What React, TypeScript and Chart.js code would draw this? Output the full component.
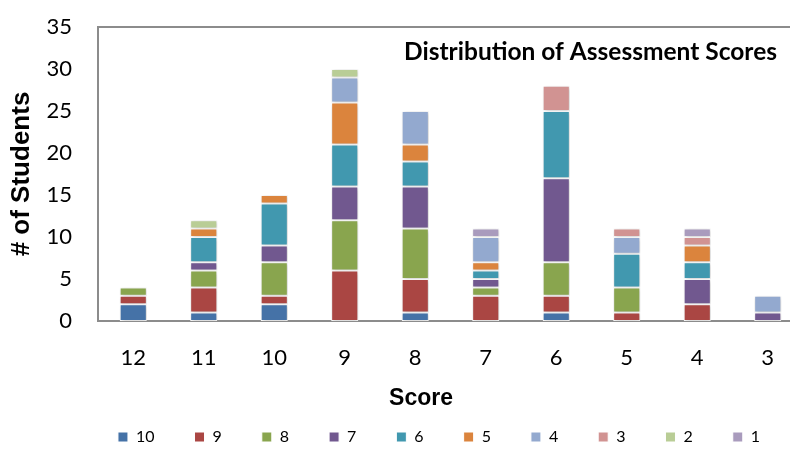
import React, { useEffect, useRef } from "react";
import { Chart, registerables } from "chart.js";
Chart.register(...registerables);

const categories = ["12", "11", "10", "9", "8", "7", "6", "5", "4", "3"];
const seriesNames = ["10", "9", "8", "7", "6", "5", "4", "3", "2", "1"];

const s10 = [2, 1, 2, 0, 1, 0, 1, 0, 0, 0];
const s9 = [1, 3, 1, 6, 4, 3, 2, 1, 2, 0];
const s8 = [1, 2, 4, 6, 6, 1, 4, 3, 0, 0];
const s7 = [0, 1, 2, 4, 5, 1, 10, 0, 3, 1];
const s6 = [0, 3, 5, 5, 3, 1, 8, 4, 2, 0];
const s5 = [0, 1, 1, 5, 2, 1, 0, 0, 2, 0];
const s4 = [0, 0, 0, 3, 4, 3, 0, 2, 0, 2];
const s3 = [0, 0, 0, 0, 0, 0, 3, 1, 1, 0];
const s2 = [0, 1, 0, 1, 0, 0, 0, 0, 0, 0];
const s1 = [0, 0, 0, 0, 0, 1, 0, 0, 1, 0];

const seriesValues = [s10, s9, s8, s7, s6, s5, s4, s3, s2, s1];
const seriesColors = [
  "#4572A7", "#AA4643", "#89A54E", "#71588F", "#4198AF",
  "#DB843D", "#93A9CF", "#D19392", "#B9CD96", "#A99BBD",
];

const yMin = 0;
const yMax = 35;
const yStep = 5;

const chartTitle = "Distribution of Assessment Scores";
const xTitle = "Score";
const yTitle = "# of Students";

const borderPlugin = {
  id: "plotBorder",
  beforeDatasetsDraw(chart: any) {
    const { ctx, chartArea } = chart;
    ctx.save();
    ctx.strokeStyle = "#8C8C8C";
    ctx.lineWidth = 2;
    ctx.strokeRect(chartArea.left, chartArea.top, chartArea.right - chartArea.left, chartArea.bottom - chartArea.top);
    ctx.restore();
  },
};

const shadowPlugin = {
  id: "barShadow",
  beforeDatasetsDraw(chart: any) {
    const { ctx } = chart;
    ctx.save();
    ctx.shadowColor = "rgba(0,0,0,0.22)";
    ctx.shadowBlur = 4;
    ctx.shadowOffsetX = 1;
    ctx.shadowOffsetY = 1;
  },
  afterDatasetsDraw(chart: any) {
    chart.ctx.restore();
  },
};

const textPlugin = {
  id: "texts",
  afterDraw(chart: any) {
    const { ctx, chartArea } = chart;
    ctx.save();
    ctx.fillStyle = "#000";
    ctx.font = "bold 24.5px Lato";
    ctx.textAlign = "right";
    ctx.textBaseline = "middle";
    ctx.fillText(chartTitle, chartArea.left + 679, chartArea.top + 25);
    ctx.font = "bold 23px 'Liberation Sans'";
    ctx.textAlign = "center";
    ctx.fillText(xTitle, chartArea.left + 323, chartArea.bottom + 78);
    ctx.restore();
  },
};

export default function App() {
  const ref = useRef<HTMLCanvasElement>(null);
  useEffect(() => {
    const canvas = ref.current;
    if (!canvas) return;
    const chart = new Chart(canvas, {
      type: "bar",
      data: {
        labels: categories,
        datasets: seriesValues.map((vals, i) => ({
          label: seriesNames[i],
          data: vals,
          backgroundColor: seriesColors[i],
          borderColor: "#FFFFFF",
          borderWidth: 1,
          borderSkipped: false,
          barPercentage: 0.385,
          categoryPercentage: 1,
          yAxisID: "y",
        })),
      },
      options: {
        responsive: false,
        animation: false,
        layout: { padding: { top: 27, right: 0, left: 0, bottom: 18 } },
        plugins: {
          legend: {
            position: "bottom",
            labels: {
              boxWidth: 10,
              boxHeight: 10,
              padding: 40,
              color: "#000",
              font: { family: "Lato", size: 16 },
            },
          },
          tooltip: { enabled: false },
          title: { display: false },
        },
        scales: {
          x: {
            stacked: true,
            grid: { display: false, drawTicks: false },
            border: { display: false },
            ticks: { color: "#000", font: { family: "Lato", size: 22 }, padding: 24, maxRotation: 0 },
            afterFit(scale: any) {
              scale.height = 68;
              scale.paddingLeft = 0;
              scale.paddingRight = 0;
            },
          },
          y: {
            stacked: true,
            position: "left",
            min: yMin,
            max: yMax,
            grid: { display: false, drawTicks: false },
            border: { display: false },
            ticks: { stepSize: yStep, color: "#000", font: { family: "Lato", size: 22 }, padding: 26 },
            title: {
              display: true,
              text: yTitle,
              color: "#000",
              font: { family: "'Liberation Sans'", size: 26, weight: "bold" },
              padding: { top: 6, bottom: 0 },
            },
            afterFit(scale: any) {
              scale.width = 98;
              scale.paddingTop = 0;
              scale.paddingBottom = 0;
            },
          },
          yRight: {
            position: "right",
            min: yMin,
            max: yMax,
            grid: { display: false, drawTicks: false },
            border: { display: false },
            ticks: { display: false },
            afterFit(scale: any) {
              scale.width = 75;
              scale.paddingTop = 0;
              scale.paddingBottom = 0;
            },
          },
        },
      },
      plugins: [borderPlugin, shadowPlugin, textPlugin],
    });
    return () => chart.destroy();
  }, []);
  return (
    <div style={{ position: "absolute", left: 0, top: 0, width: 790, height: 473, overflow: "hidden", background: "#fff" }}>
      <canvas ref={ref} width={878} height={473} style={{ display: "block" }} />
    </div>
  );
}
